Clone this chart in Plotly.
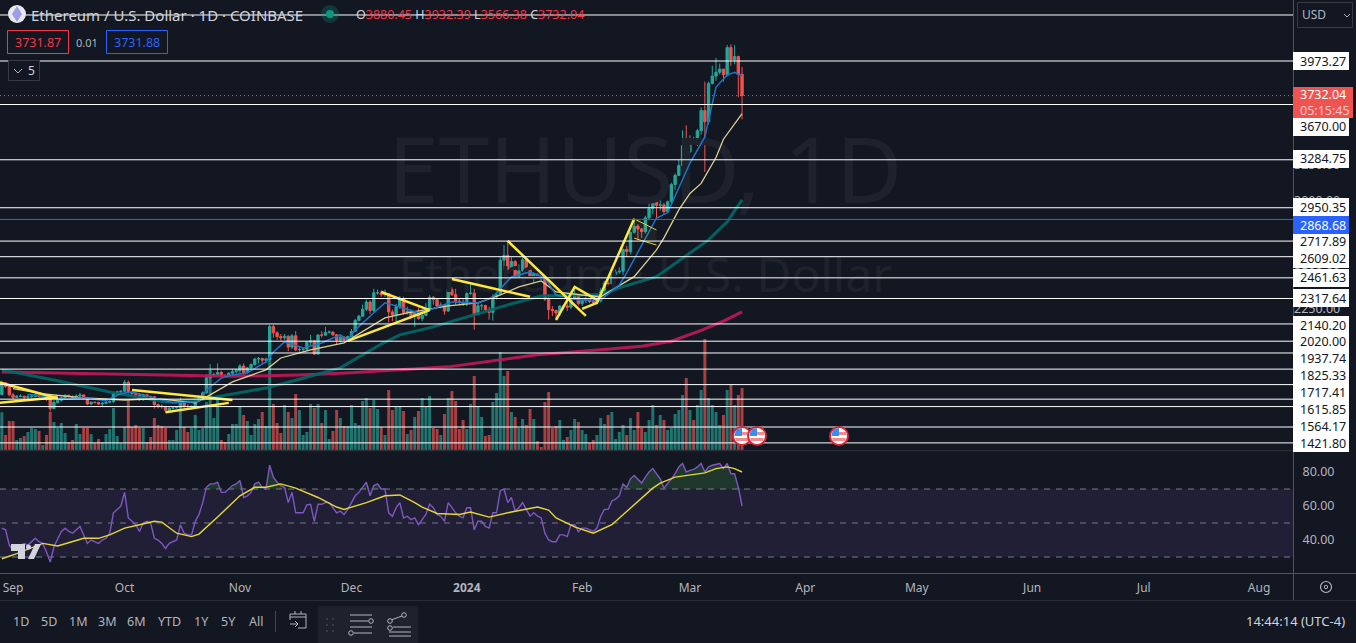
"""
Ethereum / U.S. Dollar daily chart with levels, volume and RSI panes
"""
import numpy as np
import pandas as pd
import plotly.graph_objects as go

WIDTH, HEIGHT = 1356, 643
FONT = "Noto Sans"
BG = "#131722"
TEXT = "#b2b5be"
UP, DOWN = "#26a69a", "#ef5350"

dates = pd.date_range("2023-08-29", "2024-03-15", freq="D")

opens = [
    1649, 1730, 1705,
    1646, 1628, 1636, 1636, 1628, 1633, 1635, 1647, 1635, 1636, 1617, 1550, 1593, 1608, 1626,
    1643, 1635, 1622, 1638, 1645, 1623, 1583, 1594, 1593, 1582, 1587, 1595, 1598, 1652, 1668,
    1671, 1733, 1663, 1655, 1646, 1611, 1646, 1634, 1633, 1578, 1567, 1565, 1539, 1552, 1556,
    1558, 1600, 1566, 1565, 1566, 1605, 1629, 1660, 1765, 1785, 1788, 1802, 1778, 1776, 1796, 1809,
    1816, 1847, 1801, 1834, 1857, 1895, 1900, 1887, 1894, 2122, 2078, 2052, 2044, 2055, 1979,
    2058, 1960, 1962, 1964, 2013, 2023, 1930, 2063, 2062, 2081, 2083, 2065, 2027, 2048, 2029,
    2052, 2087, 2165, 2194, 2243, 2293, 2233, 2358, 2358, 2344, 2352, 2224, 2203, 2260, 2315,
    2220, 2228, 2197, 2218, 2177, 2200, 2240, 2326, 2310, 2266, 2271, 2230, 2379, 2345, 2299, 2291,
    2281, 2352, 2355, 2209, 2267, 2268, 2240, 2221, 2330, 2344, 2585, 2618, 2522, 2576, 2472,
    2510, 2587, 2529, 2468, 2489, 2469, 2454, 2312, 2241, 2234, 2216, 2265, 2266, 2257, 2316, 2343,
    2282, 2305, 2309, 2296, 2290, 2300, 2373, 2425, 2422, 2486, 2502, 2508, 2660, 2644, 2779,
    2822, 2802, 2785, 2880, 2945, 3014, 2967, 2970, 2923, 2992, 3112, 3176, 3245, 3383,
    3340, 3433, 3420, 3487, 3628, 3550, 3816, 3868, 3895, 3917, 3878, 4067, 3981, 4004, 3880.45,
]
highs = [
    1745, 1732, 1722,
    1660, 1645, 1650, 1640, 1648, 1645, 1660, 1650, 1642, 1640, 1620, 1612, 1620, 1632, 1650,
    1648, 1642, 1650, 1660, 1650, 1627, 1600, 1600, 1597, 1595, 1600, 1610, 1665, 1675, 1678,
    1750, 1745, 1670, 1665, 1660, 1655, 1650, 1640, 1635, 1585, 1580, 1570, 1565, 1560, 1565,
    1625, 1605, 1580, 1570, 1620, 1640, 1670, 1790, 1860, 1800, 1865, 1815, 1790, 1805, 1825, 1825,
    1860, 1865, 1840, 1865, 1905, 1910, 1900, 1905, 2135, 2135, 2090, 2070, 2070, 2060, 2070,
    2090, 1985, 1975, 2020, 2065, 2030, 2070, 2090, 2120, 2095, 2090, 2070, 2060, 2055, 2060,
    2105, 2175, 2205, 2275, 2310, 2305, 2385, 2380, 2375, 2380, 2355, 2240, 2280, 2335, 2330,
    2260, 2230, 2230, 2255, 2240, 2285, 2340, 2335, 2310, 2290, 2280, 2445, 2395, 2385, 2320, 2320,
    2360, 2430, 2385, 2295, 2280, 2275, 2260, 2345, 2365, 2610, 2690, 2717, 2605, 2585, 2555,
    2615, 2595, 2540, 2500, 2485, 2480, 2465, 2345, 2265, 2240, 2270, 2275, 2300, 2325, 2390, 2340,
    2310, 2330, 2320, 2310, 2330, 2390, 2440, 2455, 2520, 2520, 2535, 2665, 2685, 2785, 2865,
    2835, 2810, 2895, 2985, 3030, 3030, 3010, 2985, 3000, 3125, 3190, 3285, 3490, 3525,
    3455, 3445, 3500, 3650, 3830, 3830, 3940, 3995, 3955, 3905, 4085, 4090, 4083, 4010, 3932.39,
]
lows = [
    1640, 1695, 1635,
    1615, 1625, 1628, 1615, 1620, 1625, 1630, 1625, 1630, 1605, 1530, 1545, 1585, 1600, 1615,
    1625, 1615, 1615, 1630, 1615, 1575, 1575, 1585, 1575, 1565, 1580, 1590, 1590, 1640, 1660,
    1670, 1655, 1635, 1625, 1605, 1605, 1628, 1620, 1550, 1550, 1550, 1525, 1530, 1545, 1550,
    1550, 1550, 1555, 1545, 1560, 1600, 1625, 1655, 1760, 1770, 1780, 1770, 1770, 1770, 1780, 1795,
    1800, 1785, 1795, 1825, 1850, 1865, 1865, 1870, 1880, 2045, 2030, 2025, 2030, 1950, 1965,
    1950, 1935, 1945, 1955, 1990, 1925, 1930, 2045, 2055, 2075, 2055, 2000, 2010, 2020, 2020,
    2050, 2085, 2160, 2190, 2230, 2210, 2220, 2345, 2330, 2330, 2150, 2160, 2145, 2245, 2205,
    2205, 2175, 2120, 2170, 2160, 2195, 2230, 2275, 2255, 2250, 2205, 2225, 2335, 2275, 2270, 2265,
    2265, 2345, 2100, 2205, 2235, 2225, 2170, 2165, 2310, 2340, 2520, 2505, 2515, 2465, 2465,
    2500, 2500, 2455, 2425, 2460, 2445, 2300, 2170, 2195, 2165, 2195, 2240, 2230, 2245, 2310, 2270,
    2265, 2285, 2285, 2270, 2275, 2290, 2355, 2410, 2415, 2475, 2490, 2480, 2605, 2625, 2770,
    2725, 2740, 2770, 2870, 2905, 2875, 2930, 2905, 2915, 2985, 3075, 3170, 3230, 3300,
    3330, 3400, 3380, 3460, 3200, 3530, 3810, 3835, 3880, 3830, 3865, 3940, 3950, 3720, 3566.38,
]
closes = [
    1730, 1705, 1646,
    1628, 1636, 1636, 1628, 1633, 1635, 1647, 1635, 1636, 1617, 1550, 1593, 1608, 1626, 1643,
    1635, 1622, 1638, 1645, 1623, 1583, 1594, 1593, 1582, 1587, 1595, 1598, 1652, 1668, 1671,
    1733, 1663, 1655, 1646, 1611, 1646, 1634, 1633, 1578, 1567, 1565, 1539, 1552, 1556, 1558,
    1600, 1566, 1565, 1566, 1605, 1629, 1660, 1765, 1785, 1788, 1802, 1778, 1776, 1796, 1809, 1816,
    1847, 1801, 1834, 1857, 1895, 1900, 1887, 1894, 2122, 2078, 2052, 2044, 2055, 1979, 2058,
    1960, 1962, 1964, 2013, 2023, 1930, 2063, 2062, 2081, 2083, 2065, 2027, 2048, 2029, 2052,
    2087, 2165, 2194, 2243, 2293, 2233, 2358, 2358, 2344, 2352, 2224, 2203, 2260, 2315, 2220,
    2228, 2197, 2218, 2177, 2200, 2240, 2326, 2310, 2266, 2271, 2230, 2379, 2345, 2299, 2291, 2281,
    2352, 2355, 2209, 2267, 2268, 2240, 2221, 2330, 2344, 2585, 2618, 2522, 2576, 2472, 2510,
    2587, 2529, 2468, 2489, 2469, 2454, 2312, 2241, 2234, 2216, 2265, 2266, 2257, 2316, 2343, 2282,
    2305, 2309, 2296, 2290, 2300, 2373, 2425, 2422, 2486, 2502, 2508, 2660, 2644, 2779, 2822,
    2802, 2785, 2880, 2945, 3014, 2967, 2970, 2923, 2992, 3112, 3176, 3245, 3383, 3340,
    3433, 3420, 3487, 3628, 3550, 3816, 3868, 3895, 3917, 3878, 4067, 3981, 4004, 3880, 3732.04,
]
volumes = [
    377, 150, 290,
    290, 100, 120, 140, 180, 220, 210, 190, 50, 150, 380, 280, 220, 270, 170,
    80, 100, 260, 160, 220, 220, 160, 70, 110, 80, 160, 210, 420, 140, 70,
    230, 500, 230, 250, 220, 220, 80, 130, 320, 250, 240, 220, 100, 100, 200,
    490, 230, 180, 220, 350, 200, 220, 480, 800, 320, 500, 100, 80, 160, 260, 260,
    430, 350, 290, 150, 260, 310, 380, 240, 920, 460, 270, 170, 450, 380, 320,
    560, 400, 150, 180, 460, 420, 460, 270, 400, 110, 190, 400, 320, 240, 240,
    450, 270, 250, 490, 520, 420, 500, 410, 230, 150, 600, 400, 430, 440, 390,
    160, 200, 330, 390, 520, 430, 540, 220, 210, 150, 360, 520, 590, 490, 210, 300,
    210, 460, 740, 440, 330, 140, 150, 480, 570, 980, 740, 790, 380, 330, 220,
    310, 250, 410, 310, 90, 30, 480, 580, 220, 240, 300, 100, 130, 200, 310, 280,
    200, 160, 70, 100, 150, 320, 260, 350, 380, 110, 180, 250, 150, 320, 200,
    380, 220, 180, 300, 450, 250, 350, 300, 200, 220, 360, 400, 550, 720,
    400, 300, 450, 600, 1110, 520, 450, 380, 250, 350, 600, 650, 450, 550, 620,
]

rsi_values = [
    47, 46, 37,
    34, 36, 37, 38, 37, 39, 41, 39, 38, 33, 27, 36, 41, 45, 47,
    45, 44, 46, 48, 43, 38, 40, 39, 38, 40, 41, 44, 56, 58, 60,
    68, 53, 51, 49, 45, 50, 51, 50, 41, 40, 38, 35, 38, 39, 40,
    49, 44, 43, 43, 51, 55, 62, 71, 73, 73, 74, 68, 68, 70, 72, 73,
    75, 65, 66, 68, 73, 74, 71, 70, 84, 77, 74, 72, 71, 62, 68,
    56, 56, 56, 60.6, 61, 51, 61, 61, 62, 62, 59, 56, 57, 55, 58,
    62, 66, 68, 71, 74, 66, 72, 73, 70, 70, 56, 54, 59, 62, 53,
    54, 52, 53, 49, 52, 55, 61, 59, 55, 54, 51, 62, 59, 56, 54, 53,
    59, 59, 46, 51, 51, 48, 47, 56, 56, 69, 70, 62, 65, 57, 59,
    62, 58, 54, 56, 54, 53, 44, 40, 39, 39, 43, 43, 42, 49, 49, 45,
    47, 47, 46, 45, 47, 54, 58, 58, 63, 64, 66, 73, 71, 76, 78,
    75.5, 73.5, 77, 80, 82, 79, 76, 70.5, 73, 76, 79, 83, 85, 80,
    81, 81.5, 83, 85, 80, 83, 84, 84.5, 85, 82, 85, 79, 79, 71, 60,
]
rsi_ma_dates = [
    "2023-08-29", "2023-09-02", "2023-09-09", "2023-09-13", "2023-09-20", "2023-09-24", "2023-09-27",
    "2023-10-01", "2023-10-05", "2023-10-09", "2023-10-11", "2023-10-15", "2023-10-19", "2023-10-21",
    "2023-10-26", "2023-11-01", "2023-11-05", "2023-11-08", "2023-11-12", "2023-11-16", "2023-11-22",
    "2023-11-27", "2023-11-29", "2023-12-03", "2023-12-05", "2023-12-10", "2023-12-14", "2023-12-18",
    "2023-12-20", "2023-12-24", "2023-12-30", "2024-01-02", "2024-01-07", "2024-01-13", "2024-01-20",
    "2024-01-23", "2024-01-25", "2024-01-30", "2024-02-04", "2024-02-09", "2024-02-14", "2024-02-17",
    "2024-02-20", "2024-02-22", "2024-02-26", "2024-03-05", "2024-03-08", "2024-03-11", "2024-03-13",
    "2024-03-15",
]
rsi_ma_values = [
    29, 32, 38, 36.5, 41, 41, 43,
    47, 49, 51, 50.5, 44, 42, 43.5,
    53.5, 66, 71, 71, 73, 70.5, 65,
    59.4, 58, 60.6, 62, 66, 66.5, 62,
    59.4, 55.6, 55, 56.5, 53.5, 56.5, 59.4,
    57.6, 53, 47.7, 44, 49, 59, 65,
    70.5, 73.5, 77, 79.5, 82, 83, 82,
    80,
]

fast_dates = [
    "2023-09-05", "2023-09-10", "2023-09-15", "2023-09-20", "2023-09-26", "2023-09-30", "2023-10-03",
    "2023-10-09", "2023-10-14", "2023-10-21", "2023-10-23", "2023-10-27", "2023-10-30", "2023-11-03",
    "2023-11-08", "2023-11-10", "2023-11-13", "2023-11-18", "2023-11-23", "2023-11-28", "2023-11-30",
    "2023-12-02", "2023-12-04", "2023-12-07", "2023-12-10", "2023-12-14", "2023-12-19", "2023-12-22",
    "2023-12-28", "2024-01-04", "2024-01-08", "2024-01-13", "2024-01-18", "2024-01-22", "2024-01-25",
    "2024-01-31", "2024-02-06", "2024-02-11", "2024-02-13", "2024-02-17", "2024-02-21", "2024-02-24",
    "2024-03-01", "2024-03-05", "2024-03-08", "2024-03-11", "2024-03-13", "2024-03-15",
]
fast_values = [
    1650, 1635, 1615, 1625, 1605, 1655, 1665,
    1625, 1590, 1600, 1680, 1763, 1785, 1800,
    1875, 1945, 2015, 1973, 2008, 2064, 2029,
    2099, 2148, 2218, 2287, 2259, 2218, 2238,
    2294, 2287, 2329, 2468, 2503, 2461, 2342,
    2308, 2308, 2412, 2497, 2691, 2879, 2915,
    3262, 3444, 3792, 3875, 3895, 3870,
]
mid_dates = [
    "2023-09-01", "2023-09-10", "2023-09-20", "2023-10-01", "2023-10-10", "2023-10-20", "2023-10-24",
    "2023-10-30", "2023-11-08", "2023-11-12", "2023-11-20", "2023-11-29", "2023-12-10", "2023-12-16",
    "2023-12-27", "2024-01-04", "2024-01-10", "2024-01-15", "2024-01-21", "2024-01-25", "2024-02-01",
    "2024-02-06", "2024-02-15", "2024-02-21", "2024-02-23", "2024-02-27", "2024-03-01", "2024-03-04",
    "2024-03-08", "2024-03-10", "2024-03-15",
]
mid_values = [
    1690, 1650, 1625, 1610, 1620, 1590, 1646,
    1736, 1820, 1903, 1960, 2008, 2182, 2218,
    2266, 2287, 2342, 2398, 2440, 2363, 2342,
    2330, 2470, 2656, 2740, 2935, 3050, 3120,
    3300, 3428, 3607,
]
slow_dates = [
    "2023-08-29", "2023-09-12", "2023-09-27", "2023-10-12", "2023-10-21", "2023-10-29", "2023-11-08",
    "2023-11-17", "2023-11-28", "2023-12-09", "2023-12-14", "2023-12-23", "2024-01-03", "2024-01-12",
    "2024-01-21", "2024-01-31", "2024-02-06", "2024-02-12", "2024-02-21", "2024-03-01", "2024-03-06",
    "2024-03-11", "2024-03-15",
]
slow_values = [
    1820, 1750, 1666, 1597, 1610, 1646, 1694,
    1755, 1834, 2000, 2064, 2120, 2203, 2273,
    2335, 2342, 2345, 2400, 2470, 2635, 2726,
    2852, 3005,
]
long_dates = [
    "2023-08-29", "2023-10-01", "2023-10-30", "2023-11-17", "2023-12-01", "2023-12-27", "2024-01-10",
    "2024-01-20", "2024-02-06", "2024-02-17", "2024-02-25", "2024-03-04", "2024-03-10", "2024-03-15",
]
long_values = [1805, 1790, 1775, 1785, 1800, 1841, 1890, 1925, 1960, 1985, 2020, 2095, 2160, 2224]

# horizontal levels (white), drawn across the whole price pane
level_prices = [
    4294, 3973.27, 3670.00, 3284.75, 2950.35, 2717.89, 2609.02, 2461.63, 2317.64,
    2140.20, 2020.00, 1937.74, 1825.33, 1717.41, 1615.85, 1564.17, 1421.80, 1311,
]
blue_level = 2868.68
last_price = 3732.04

# trendlines: each is (dates, prices)
trendlines = [
    (["2023-08-28", "2023-09-13"], [1735, 1622]),
    (["2023-08-28", "2023-09-13"], [1590, 1630]),
    (["2023-10-03", "2023-10-30"], [1680, 1610]),
    (["2023-10-12", "2023-10-29"], [1525, 1590]),
    (["2023-12-09", "2023-12-22"], [2363, 2237]),
    (["2023-11-30", "2023-12-22"], [2022, 2237]),
    (["2023-12-28", "2024-01-18"], [2454, 2330]),
    (["2024-01-12", "2024-02-02"], [2719, 2196]),
    (["2024-01-25", "2024-01-30", "2024-02-05"], [2168, 2398, 2308]),
    (["2024-02-01", "2024-02-05", "2024-02-15"], [2245, 2287, 2873]),
]
flag_upper = (["2024-02-15", "2024-02-21"], [2873, 2795])
flag_lower = (["2024-02-15", "2024-02-21"], [2738, 2690])

month_ticks = ["2023-09-01", "2023-10-01", "2023-11-01", "2023-12-01", "2024-01-01", "2024-02-01",
               "2024-03-01", "2024-04-01", "2024-05-01", "2024-06-01", "2024-07-01", "2024-08-01"]
month_labels = ["Sep", "Oct", "Nov", "Dec", "<b>2024</b>", "Feb", "Mar", "Apr", "May", "Jun", "Jul", "Aug"]
hidden_ticks = [4000, 3250, 3000, 2500, 2250]
rsi_ticks = [80, 60, 40]
range_buttons = ["1D", "5D", "1M", "3M", "6M", "YTD", "1Y", "5Y", "All"]
range_button_x = [21, 49, 78, 107, 136, 169, 201, 228, 256]
# label text, centre y of its box (labels get pushed apart by the price scale)
price_labels = [
    ("3973.27", 61), ("3670.00", 127), ("3284.75", 159), ("2950.35", 207), ("2717.89", 241),
    ("2609.02", 259), ("2461.63", 278), ("2317.64", 298), ("2140.20", 325), ("2020.00", 341),
    ("1937.74", 358), ("1825.33", 375), ("1717.41", 392), ("1615.85", 409), ("1564.17", 427),
    ("1421.80", 443),
]


def px(x):
    return x / WIDTH


def py(y):
    return 1 - y / HEIGHT


def rect(x0, y0, x1, y1, fill="rgba(0,0,0,0)", line=None, width=1):
    return dict(type="rect", xref="paper", yref="paper", x0=px(x0), y0=py(y0), x1=px(x1), y1=py(y1),
                fillcolor=fill, line=dict(color=line or "rgba(0,0,0,0)", width=width if line else 0))


def seg(x0, y0, x1, y1, color, width=1, dash="solid"):
    return dict(type="line", xref="paper", yref="paper", x0=px(x0), y0=py(y0), x1=px(x1), y1=py(y1),
                line=dict(color=color, width=width, dash=dash))


def circle(cx, cy, r, fill, line=None, width=1):
    return dict(type="circle", xref="paper", yref="paper", x0=px(cx - r), y0=py(cy - r), x1=px(cx + r), y1=py(cy + r),
                fillcolor=fill, line=dict(color=line or "rgba(0,0,0,0)", width=width if line else 0))


def poly(points, fill):
    d = "M " + " L ".join(f"{px(x)} {py(y)}" for x, y in points) + " Z"
    return dict(type="path", xref="paper", yref="paper", path=d, fillcolor=fill, line=dict(width=0))


def label(x, y, text, size=12, color=TEXT, anchor="left"):
    return dict(xref="paper", yref="paper", x=px(x), y=py(y), text=text, showarrow=False,
                xanchor=anchor, yanchor="middle", font=dict(family=FONT, size=size, color=color))


fig = go.Figure()

# volume sits on the base axis so the price traces paint over it
vol_colors = ["rgba(38,166,154,0.65)" if c >= o else "rgba(239,83,80,0.68)" for o, c in zip(opens, closes)]
fig.add_trace(go.Bar(x=dates, y=volumes, marker=dict(color=vol_colors, line=dict(width=0)),
                     xaxis="x", yaxis="y", name="Volume"))

# watermark
fig.add_trace(go.Scatter(x=["2024-02-18"], y=[3140], mode="text", text=["ETHUSD, 1D"], xaxis="x", yaxis="y2",
                         textfont=dict(family=FONT, size=91, color="#1e222c"), cliponaxis=False, hoverinfo="skip"))
fig.add_trace(go.Scatter(x=["2024-02-18"], y=[2447], mode="text", text=["Ethereum · U.S. Dollar"], xaxis="x", yaxis="y2",
                         textfont=dict(family=FONT, size=48, color="#1e222c"), cliponaxis=False, hoverinfo="skip"))

fig.add_trace(go.Scatter(x=long_dates, y=long_values, mode="lines", xaxis="x", yaxis="y2", name="SMA 200",
                         line=dict(color="rgba(194,24,91,0.9)", width=3)))
fig.add_trace(go.Scatter(x=slow_dates, y=slow_values, mode="lines", xaxis="x", yaxis="y2", name="SMA 50",
                         line=dict(color="rgba(0,105,105,0.9)", width=3)))

fig.add_trace(go.Candlestick(x=dates, open=opens, high=highs, low=lows, close=closes, xaxis="x", yaxis="y2",
                             increasing=dict(line=dict(color=UP, width=1), fillcolor=UP),
                             decreasing=dict(line=dict(color=DOWN, width=1), fillcolor=DOWN),
                             whiskerwidth=0, name="ETHUSD"))

fig.add_trace(go.Scatter(x=mid_dates, y=mid_values, mode="lines", xaxis="x", yaxis="y2", name="SMA 21",
                         line=dict(color="#d9cf94", width=1.3)))
fig.add_trace(go.Scatter(x=fast_dates, y=fast_values, mode="lines", xaxis="x", yaxis="y2", name="EMA 8",
                         line=dict(color="#1e74c9", width=1.5)))

# bull flag area, thin lines
fig.add_trace(go.Scatter(x=flag_upper[0] + flag_lower[0][::-1], y=flag_upper[1] + flag_lower[1][::-1], mode="lines",
                         xaxis="x", yaxis="y2", fill="toself", fillcolor="rgba(255,235,59,0.06)",
                         line=dict(width=0), hoverinfo="skip"))
for xs, ys in (flag_upper, flag_lower):
    fig.add_trace(go.Scatter(x=xs, y=ys, mode="lines", xaxis="x", yaxis="y2", hoverinfo="skip",
                             line=dict(color="#e8cf3a", width=1)))
for xs, ys in trendlines:
    fig.add_trace(go.Scatter(x=xs, y=ys, mode="lines", xaxis="x", yaxis="y2", hoverinfo="skip",
                             line=dict(color="#ffe83b", width=2.5)))

# RSI pane
fig.add_trace(go.Scatter(x=dates, y=[70] * len(dates), mode="lines", xaxis="x2", yaxis="y3",
                         line=dict(width=0), hoverinfo="skip"))
fig.add_trace(go.Scatter(x=dates, y=np.maximum(rsi_values, 70), mode="lines", xaxis="x2", yaxis="y3",
                         line=dict(width=0), fill="tonexty", fillcolor="rgba(76,175,80,0.22)", hoverinfo="skip"))
fig.add_trace(go.Scatter(x=dates, y=rsi_values, mode="lines", xaxis="x2", yaxis="y3", name="RSI",
                         line=dict(color="#7e57c2", width=1.4)))
fig.add_trace(go.Scatter(x=rsi_ma_dates, y=rsi_ma_values, mode="lines", xaxis="x2", yaxis="y3", name="RSI MA",
                         line=dict(color="#e6d733", width=1.4)))

x_range = ["2023-08-28 12:00", "2024-08-10 03:00"]
price_range = [1261.5, 4398.5]

shapes = []
# RSI band and its dashed levels
shapes.append(dict(type="rect", xref="x2 domain", yref="y3", x0=0, x1=1, y0=30, y1=70, layer="below",
                   fillcolor="rgba(126,87,194,0.13)", line=dict(width=0)))
for level in (70, 50, 30):
    shapes.append(dict(type="line", xref="x2 domain", yref="y3", x0=0, x1=1, y0=level, y1=level, layer="below",
                       line=dict(color="#787b86", width=1, dash="6px,6px")))
# price levels
for level in level_prices:
    shapes.append(dict(type="line", xref="x domain", yref="y2", x0=0, x1=1, y0=level, y1=level,
                       line=dict(color="#ffffff", width=1)))
shapes.append(dict(type="line", xref="x domain", yref="y2", x0=0, x1=1, y0=blue_level, y1=blue_level,
                   line=dict(color="#2962ff", width=1)))
shapes.append(dict(type="line", xref="x domain", yref="y2", x0=0, x1=1, y0=last_price, y1=last_price,
                   line=dict(color=DOWN, width=1, dash="1px,3px")))

# pane borders
shapes += [
    seg(0, 450.5, 1293, 450.5, "#2a2e39", 1.5),
    seg(0, 573.5, 1356, 573.5, "#50535e", 1),
    seg(0, 600.5, 1356, 600.5, "#2a2e39", 1),
    seg(1293.5, 0, 1293.5, 600, "#50535e", 1),
]

# price scale boxes
for text, yc in price_labels:
    shapes.append(rect(1293, yc - 9, 1349, yc + 9, "#ffffff"))
shapes.append(rect(1293, 216, 1349, 234, "#2962ff"))
shapes.append(rect(1293, 87, 1353, 118, "#ef5350"))

# header boxes
shapes += [
    rect(7.5, 30.5, 68.5, 53.5, BG, "#f23645"),
    rect(106.5, 30.5, 167.5, 53.5, BG, "#2962ff"),
    rect(8.5, 60.5, 39.5, 80.5, BG, "#363a45"),
    seg(14, 69, 18, 73, "#b2b5be", 1), seg(18, 73, 22, 69, "#b2b5be", 1),
    rect(1297.5, 2.5, 1352.5, 27.5, BG, "#363a45"),
    seg(1344, 14, 1347, 17, "#b2b5be", 1), seg(1347, 17, 1350, 14, "#b2b5be", 1),
    circle(17, 14, 9, "#e8eaf0"),
    poly([(17, 6), (22, 14), (17, 22), (12, 14)], "#9a9fe8"),
    circle(330, 14, 9, "rgba(8,153,129,0.25)"),
    circle(330, 14, 4, "#089981"),
]

# TradingView mark in the RSI pane
shapes += [
    poly([(11, 544), (25, 544), (25, 559), (18, 559), (18, 551), (11, 551)], "#d1d4dc"),
    circle(28.5, 547, 2.5, "#d1d4dc"),
    poly([(35, 544), (41, 544), (34, 559), (28, 559)], "#d1d4dc"),
]

# event flags on the time scale
for cx in (742, 757, 839):
    shapes += [
        circle(cx, 436, 9, "#ffffff", "#d3263a", 2),
        poly([(cx - 7, 438), (cx + 7, 438), (cx + 6, 441), (cx - 6, 441)], "#f28b8b"),
        poly([(cx, 432), (cx + 7, 432), (cx + 7.5, 435), (cx, 435)], "#f28b8b"),
        poly([(cx - 7, 433), (cx - 5, 429), (cx, 428), (cx, 436), (cx - 7.5, 436)], "#3a8ef0"),
    ]

# gear
shapes.append(circle(1326, 587, 5.5, BG, "#b2b5be", 1.2))
shapes.append(circle(1326, 587, 1.7, BG, "#b2b5be", 1))

# bottom toolbar
shapes += [
    seg(275.5, 611, 275.5, 632, "#434651", 1),
    seg(290, 614, 306, 614, "#b2b5be"), seg(306, 614, 306, 628, "#b2b5be"), seg(306, 628, 298, 628, "#b2b5be"),
    seg(290, 614, 290, 620, "#b2b5be"), seg(290, 617, 306, 617, "#b2b5be"),
    seg(295, 611, 295, 614, "#b2b5be"), seg(301, 611, 301, 614, "#b2b5be"),
    seg(290, 624, 298, 624, "#b2b5be"), seg(295, 621, 298, 624, "#b2b5be"), seg(295, 627, 298, 624, "#b2b5be"),
    dict(type="path", xref="paper", yref="paper", fillcolor="#1e222d", line=dict(width=0),
         path=f"M {px(318)} {py(643)} L {px(318)} {py(610)} Q {px(318)} {py(606)} {px(322)} {py(606)} "
              f"L {px(414)} {py(606)} Q {px(418)} {py(606)} {px(418)} {py(610)} L {px(418)} {py(643)} Z"),
]
for dot_x in (327, 333):
    for dot_y in (619, 625, 631):
        shapes.append(circle(dot_x, dot_y, 1, "#434651"))
shapes += [
    seg(350, 615, 372, 615, "#b2b5be"), seg(350, 621, 368, 621, "#b2b5be"), circle(371, 621, 2.3, "#1e222d", "#b2b5be"),
    seg(350, 627, 372, 627, "#b2b5be"), seg(354, 633, 372, 633, "#b2b5be"), circle(351, 633, 2.3, "#1e222d", "#b2b5be"),
    seg(391, 620, 402, 616, "#b2b5be"), circle(390, 621, 2.3, "#1e222d", "#b2b5be"), circle(404, 615, 2.3, "#1e222d", "#b2b5be"),
    circle(390, 628, 2.3, "#1e222d", "#b2b5be"),
    seg(393, 627, 411, 627, "#b2b5be"), seg(389, 632, 411, 632, "#b2b5be"), seg(389, 636, 411, 636, "#b2b5be"),
]

annotations = [
    label(29, 15, "Ethereum / U.S. Dollar · 1D · COINBASE", 15, "#d1d4dc"),
    label(354, 15, 'O<span style="color:#f23645">3880.45</span> H<span style="color:#f23645">3932.39</span> '
                   'L<span style="color:#f23645">3566.38</span> C<span style="color:#f23645">3732.04</span>', 12.5, "#d1d4dc"),
    label(38, 42.5, "3731.87", 12.5, "#f23645", "center"),
    label(87, 42.5, "0.01", 11, TEXT, "center"),
    label(137, 42.5, "3731.88", 12.5, "#2962ff", "center"),
    label(31, 71, "5", 12, "#d1d4dc", "center"),
    label(1300, 15, "USD", 12, "#b2b5be"),
    label(1298, 95, "3732.04", 12.5, "#ffffff"),
    label(1298, 110, "05:15:45", 12.5, "#ffc9c8"),
    label(1298, 225, "2868.68", 12.5, "#ffffff"),
    label(1347, 621, "14:44:14 (UTC-4)", 13, "#d1d4dc", "right"),
]
for text, yc in price_labels:
    annotations.append(label(1298, yc, text, 12.5, "#131722"))
for text, xc in zip(range_buttons, range_button_x):
    annotations.append(label(xc, 621, text, 12.5, TEXT, "center"))

fig.update_layout(
    width=WIDTH, height=HEIGHT,
    margin=dict(l=0, r=0, t=0, b=0),
    paper_bgcolor=BG, plot_bgcolor=BG,
    showlegend=False,
    bargap=0.2,
    boxgap=0.1,
    hovermode="closest",
    font=dict(family=FONT, size=12, color=TEXT),
    shapes=shapes,
    annotations=annotations,
    xaxis=dict(domain=[0, 1293 / WIDTH], range=x_range, type="date", anchor="y", showticklabels=False,
               showgrid=False, zeroline=False, rangeslider=dict(visible=False), ticks=""),
    xaxis2=dict(domain=[0, 1293 / WIDTH], range=x_range, type="date", anchor="y3", matches="x",
                tickmode="array", tickvals=month_ticks, ticktext=month_labels, ticks="outside", ticklen=4,
                tickcolor=BG, showgrid=False, zeroline=False, tickfont=dict(family=FONT, size=12, color=TEXT)),
    yaxis=dict(domain=[1 - 450 / HEIGHT, 1], range=[0, 4500], visible=False, showgrid=False),
    yaxis2=dict(domain=[1 - 450 / HEIGHT, 1], range=price_range, overlaying="y", side="right", anchor="x",
                tickmode="array", tickvals=hidden_ticks, tickformat=".2f", ticks="", showgrid=False, zeroline=False,
                tickfont=dict(family=FONT, size=12.5, color=TEXT)),
    yaxis3=dict(domain=[1 - 573 / HEIGHT, 1 - 451 / HEIGHT], range=[20.6, 92.35], side="right", anchor="x2",
                tickmode="array", tickvals=rsi_ticks, tickformat=".2f", ticks="outside", ticklen=6, tickcolor=BG,
                showgrid=False, zeroline=False, tickfont=dict(family=FONT, size=12.5, color=TEXT)),
)

fig.write_html("out.html", config=dict(displayModeBar=False),
               post_script="document.body.style.margin='0';")
